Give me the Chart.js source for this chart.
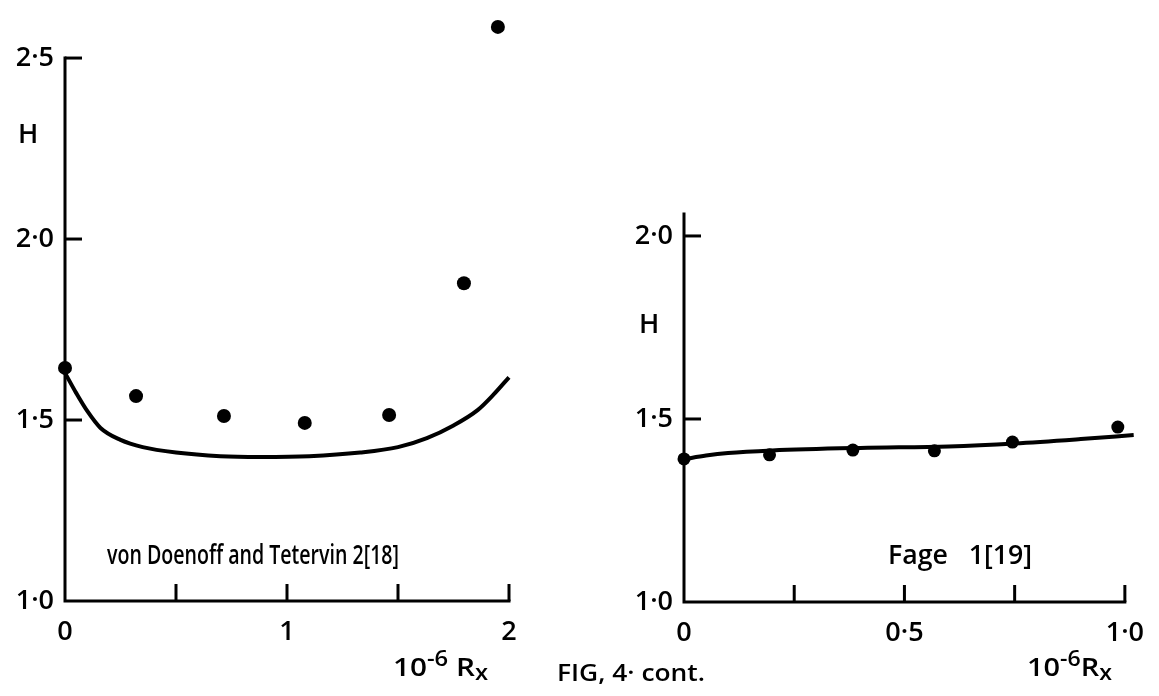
<!DOCTYPE html>
<html>
<head>
<meta charset="utf-8">
<script src="https://cdn.jsdelivr.net/npm/chart.js@4.4.1/dist/chart.umd.min.js"></script>
<style>
html,body{margin:0;padding:0;background:#fff;}
#wrap{position:relative;width:1159px;height:696px;overflow:hidden;background:#fff;}
canvas{position:absolute;left:0;top:0;}
.lbl{position:absolute;white-space:pre;color:#000;font-family:'Open Sans',sans-serif;font-weight:600;line-height:1;transform-origin:0 50%;}
.lbl sup{font-size:0.8em;vertical-align:0.5em;line-height:0;}
.lbl sub{font-size:0.8em;vertical-align:-0.2em;line-height:0;}
</style>
</head>
<body>
<div id="wrap">
<canvas id="leftChart" width="1159" height="696"></canvas>
<canvas id="rightChart" width="1159" height="696"></canvas>
<div class="lbl" id="hLeft">H</div>
<div class="lbl" id="hRight">H</div>
<div class="lbl" id="capLeft">von Doenoff and Tetervin 2[18]</div>
<div class="lbl" id="capRight">Fage   1[19]</div>
<div class="lbl" id="xTitleLeft">10<sup>-6</sup> R<sub>x</sub></div>
<div class="lbl" id="xTitleRight">10<sup>-6</sup>R<sub>x</sub></div>
<div class="lbl" id="figCap">FIG, 4· cont.</div>
</div>
<script>
// ---- data ----
const leftDotX   = [0, 0.32, 0.716, 1.08, 1.46, 1.797, 1.95];
const leftDotH   = [1.644, 1.566, 1.511, 1.492, 1.514, 1.878, 2.586];
const leftCurveX = [0, 0.05, 0.1, 0.16, 0.25, 0.35, 0.5, 0.7, 0.88, 1.1, 1.33, 1.5, 1.63, 1.75, 1.86, 1.93, 2.0];
const leftCurveH = [1.63, 1.575, 1.525, 1.478, 1.445, 1.425, 1.41, 1.40, 1.398, 1.40, 1.41, 1.425, 1.45, 1.485, 1.528, 1.57, 1.618];
const rightDotX   = [0, 0.194, 0.383, 0.568, 0.745, 0.984];
const rightDotH   = [1.391, 1.402, 1.415, 1.413, 1.437, 1.478];
const rightCurveX = [0, 0.05, 0.1, 0.2, 0.4, 0.6, 0.75, 0.9, 1.02];
const rightCurveH = [1.39, 1.40, 1.407, 1.414, 1.421, 1.425, 1.433, 1.445, 1.456];
const leftXTicks = [0, 0.5, 1, 1.5, 2];
const leftXTickLabels = ['0', '', '1', '', '2'];
const leftYTicks = [1.0, 1.5, 2.0, 2.5];
const leftYTickLabels = ['1·0', '1·5', '2·0', '2·5'];
const rightXTicks = [0, 0.25, 0.5, 0.75, 1.0];
const rightXTickLabels = ['0', '', '0·5', '', '1·0'];
const rightYTicks = [1.0, 1.5, 2.0];
const rightYTickLabels = ['1·0', '1·5', '2·0'];

// axis lines and inward tick marks, placed through the library's scales
const axesAndTicks = {
  id: 'axesAndTicks',
  afterDraw(chart, args, opts) {
    const {ctx, scales: {x, y}} = chart;
    const L = opts.len || 17;
    const x0 = x.getPixelForValue(x.min), x1 = x.getPixelForValue(x.max);
    const y0 = y.getPixelForValue(y.min), y1 = y.getPixelForValue(opts.axisTop);
    ctx.save();
    ctx.strokeStyle = '#000';
    ctx.lineWidth = 3;
    ctx.lineCap = 'square';
    ctx.beginPath(); ctx.moveTo(x0, y1); ctx.lineTo(x0, y0); ctx.lineTo(x1, y0); ctx.stroke();
    ctx.lineCap = 'butt';
    x.ticks.forEach(t => {
      if (t.value === x.min) return;
      const px = x.getPixelForValue(t.value);
      ctx.beginPath(); ctx.moveTo(px, y0); ctx.lineTo(px, y0 - L); ctx.stroke();
    });
    y.ticks.forEach(t => {
      if (t.value === y.min) return;
      const py = y.getPixelForValue(t.value);
      ctx.beginPath(); ctx.moveTo(x0, py); ctx.lineTo(x0 + L, py); ctx.stroke();
    });
    ctx.restore();
  }
};

const tickFont = {family: "'Open Sans', sans-serif", size: 27, weight: '600'};

function build(id, o) {
  return new Chart(document.getElementById(id), {
    type: 'scatter',
    data: {
      datasets: [
        {
          type: 'line',
          data: o.curveX.map((v, i) => ({x: v, y: o.curveH[i]})),
          borderColor: '#000', borderWidth: 4, pointRadius: 0,
          tension: 0.4, cubicInterpolationMode: 'monotone', fill: false, clip: false
        },
        {
          data: o.dotX.map((v, i) => ({x: v, y: o.dotH[i]})),
          backgroundColor: '#000', borderColor: '#000', borderWidth: 0,
          pointRadius: o.r, clip: false
        }
      ]
    },
    options: {
      responsive: false, animation: false, events: [],
      layout: {padding: o.padding},
      plugins: {legend: {display: false}, tooltip: {enabled: false}, axesAndTicks: {len: 17, axisTop: o.axisTop}},
      scales: {
        x: {
          type: 'linear', min: o.xMin, max: o.xMax,
          afterFit(s) { s.height = o.xH; },
          afterBuildTicks(s) { s.ticks = o.xTicks.map(v => ({value: v})); },
          ticks: {callback: (v, i) => o.xLabels[i], autoSkip: false, maxRotation: 0, padding: 15, font: tickFont, color: '#000'},
          grid: {display: false, drawTicks: false},
          border: {display: false}
        },
        y: {
          type: 'linear', min: o.yMin, max: o.yMax,
          afterFit(s) { s.width = o.yW; },
          afterBuildTicks(s) { s.ticks = o.yTicks.map(v => ({value: v})); },
          ticks: {callback: (v, i) => o.yLabels[i], autoSkip: false, padding: 11, font: tickFont, color: '#000'},
          grid: {display: false, drawTicks: false},
          border: {display: false}
        }
      }
    },
    plugins: [axesAndTicks]
  });
}

build('leftChart', {
  curveX: leftCurveX, curveH: leftCurveH, dotX: leftDotX, dotH: leftDotH, r: 7,
  xMin: 0, xMax: 2, yMin: 1.0, yMax: 2.583, axisTop: 2.5,
  xTicks: leftXTicks, xLabels: leftXTickLabels, yTicks: leftYTicks, yLabels: leftYTickLabels,
  padding: {left: 0, top: 28, right: 650, bottom: 0}, xH: 95, yW: 65
});
build('rightChart', {
  curveX: rightCurveX, curveH: rightCurveH, dotX: rightDotX, dotH: rightDotH, r: 6.5,
  xMin: 0, xMax: 1.0, yMin: 1.0, yMax: 2.06, axisTop: 2.06,
  xTicks: rightXTicks, xLabels: rightXTickLabels, yTicks: rightYTicks, yLabels: rightYTickLabels,
  padding: {left: 0, top: 214, right: 31, bottom: 0}, xH: 94, yW: 684
});

function place(id, left, capMid, size, width) {
  const el = document.getElementById(id);
  el.style.fontSize = size + 'px';
  el.style.left = left + 'px';
  el.style.top = (capMid - size * 0.53) + 'px';
  if (width) {
    const w = el.getBoundingClientRect().width;
    el.style.transform = 'scaleX(' + (width / w) + ')';
  }
}
place('hLeft', 18, 133, 27);
place('hRight', 639, 323, 27);
place('capLeft', 107, 554, 27, 292);
place('capRight', 888, 554, 27, 144);
place('xTitleLeft', 393, 667, 26, 95);
place('xTitleRight', 1027, 667, 26, 85);
place('figCap', 557, 673, 24, 148);
</script>
</body>
</html>
